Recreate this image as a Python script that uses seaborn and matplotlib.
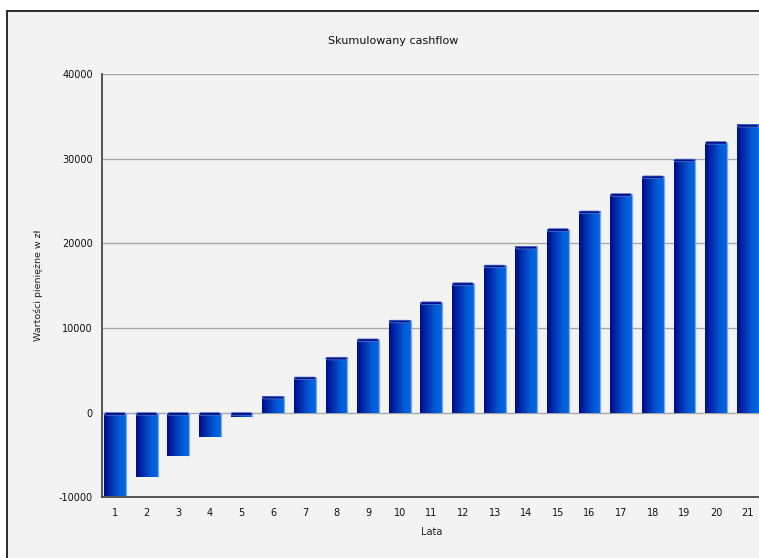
import numpy as np
import pandas as pd
import matplotlib
matplotlib.use("Agg")
import matplotlib.pyplot as plt
from matplotlib.patches import Rectangle, FancyBboxPatch
from matplotlib.colors import LinearSegmentedColormap
import seaborn as sns

# Skumulowany cashflow per year
years = [str(i) for i in range(1, 22)]
cashflow = [-9900, -7620, -5170, -2840, -520, 1930, 4210, 6540, 8710, 10920,
            13090, 15340, 17430, 19640, 21730, 23820, 25870, 27960, 29940,
            32020, 34040]
y_ticks = [-10000, 0, 10000, 20000, 30000, 40000]

df = pd.DataFrame({"Lata": years, "Wartosc": cashflow})

sns.set_style("white")
plt.rcParams["font.family"] = ["DejaVu Sans"]

W, H = 759, 558
fig = plt.figure(figsize=(W / 100, H / 100), dpi=100, facecolor="white")

# outer panel with dark border, running past the right and bottom edges
panel = Rectangle((7 / W, -0.2), 1.2, (H - 11) / H + 0.2,
                  transform=fig.transFigure, facecolor="#f3f3f3",
                  edgecolor="#1a1a1a", linewidth=1.3, zorder=-5)
fig.patches.append(panel)

ax = fig.add_axes([102 / W, (H - 497.3) / H, 657 / W, 423.3 / H])
ax.set_zorder(2)
ax.patch.set_alpha(0)

sns.barplot(data=df, x="Lata", y="Wartosc", color="#0040c0", width=0.69,
            ax=ax, zorder=3, linewidth=0)

ax.set_xlim(-0.411, 20.357)
ax.set_ylim(-10000, 40000)

# horizontal gradient fill for each bar plus a darker cap on top
cmap = LinearSegmentedColormap.from_list(
    "bar", ["#000c88", "#0030b0", "#0058d4", "#0068e4"])
grad = np.linspace(0, 1, 64).reshape(1, -1)
px_y = 50000 / 423.3          # data units per pixel, vertical
px_x = 1 / 31.63              # data units per pixel, horizontal
for p in list(ax.patches):
    x0 = p.get_x()
    w = p.get_width()
    y0 = p.get_y()
    h = p.get_height()
    lo, hi = min(y0, y0 + h), max(y0, y0 + h)
    im = ax.imshow(grad, cmap=cmap, aspect="auto",
                   extent=[x0, x0 + w, lo, hi], zorder=4,
                   interpolation="bilinear")
    im.set_clip_path(p)
    ax.plot([x0 + w, x0 + w], [lo, hi], color="#7fa8e8", lw=0.9,
            zorder=5, solid_capstyle="butt")
    cap = FancyBboxPatch((x0 + 0.01, hi - 2.6 * px_y), w - 0.02, 2.6 * px_y,
                         boxstyle="round,pad=0,rounding_size=0.05",
                         mutation_aspect=px_y / px_x,
                         facecolor="#001190", edgecolor="#5f7fc8",
                         linewidth=0.5, zorder=6)
    ax.add_patch(cap)

ax.set_xlim(-0.411, 20.357)
ax.set_ylim(-10000, 40000)

ax.set_yticks(y_ticks)
ax.set_yticklabels([str(v) for v in y_ticks])
for v in y_ticks[1:]:
    ax.axhline(v, color="#a8a8a8", lw=1.0, zorder=2)

for s in ["top", "right"]:
    ax.spines[s].set_visible(False)
for s in ["left", "bottom"]:
    ax.spines[s].set_color("#3a3a3a")
    ax.spines[s].set_linewidth(1.2)
    ax.spines[s].set_zorder(7)

ax.tick_params(axis="both", direction="out", length=4.5, width=1.0,
               color="#3a3a3a", labelsize=7, labelcolor="#101010", pad=2)
ax.tick_params(axis="x", pad=3)

ax.set_xlabel("Lata", fontsize=7, color="#202020")
ax.set_ylabel("Wartości pieniężne w zł", fontsize=6.8, color="#202020")
ax.xaxis.set_label_coords((432 - 102) / 657, -(527 - 497.3) / 423.3)
ax.yaxis.set_label_coords(-(102 - 43) / 657, (497.3 - 285) / 423.3)

fig.text(393 / W, 1 - 41 / H, "Skumulowany cashflow", ha="center",
         va="center", fontsize=8, color="#101010")

fig.savefig("out.png", dpi=100, facecolor="white")
